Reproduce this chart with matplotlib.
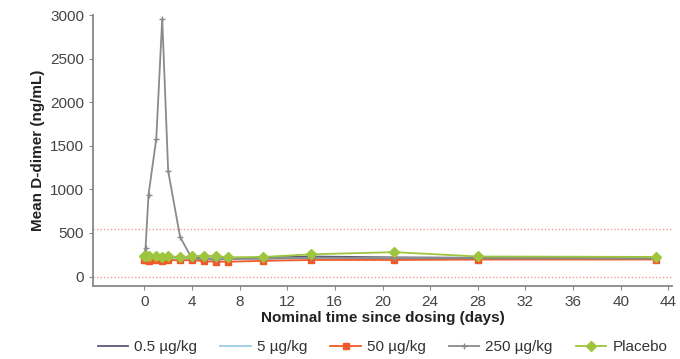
import numpy as np
import matplotlib.pyplot as plt

plt.rcParams['font.family'] = ['Liberation Sans', 'DejaVu Sans']

# nominal sampling days
days = [0, 0.1, 0.35, 1, 1.5, 2, 3, 4, 5, 6, 7, 10, 14, 21, 28, 43]
days_250 = [0, 0.1, 0.35, 1, 1.5, 2, 3, 4, 5, 6, 7, 10, 14, 21, 28, 43]

dose_05 = [215, 225, 220, 215, 210, 215, 210, 215, 210, 205, 210, 215, 230, 220, 215, 210]
dose_5 = [200, 205, 210, 205, 200, 200, 205, 200, 200, 195, 200, 205, 215, 210, 205, 205]
dose_50 = [185, 190, 175, 185, 180, 190, 185, 190, 175, 170, 170, 180, 190, 190, 195, 195]
dose_250 = [240, 325, 940, 1580, 2960, 1210, 455, 205, 200, 195, 200, 205, 215, 210, 210, 205]
placebo = [230, 235, 240, 230, 225, 230, 225, 230, 240, 235, 220, 225, 255, 280, 230, 225]

labels = ['0.5 µg/kg', '5 µg/kg', '50 µg/kg', '250 µg/kg', 'Placebo']
colors = ['#5b5b78', '#9ccbe3', '#f05a28', '#8a8a8a', '#9dc53e']


def main():
    fig = plt.figure(figsize=(6.8, 3.59), dpi=100)
    ax = fig.add_axes([0.137, 0.203, 0.851, 0.755])

    # reference lines
    ax.axhline(540, color='#f29a9a', ls=(0, (1, 1.5)), lw=1)
    ax.axhline(0, color='#f29a9a', ls=(0, (1, 1.5)), lw=1)

    ax.plot(days, dose_05, color=colors[0], lw=1.3, label=labels[0])
    ax.plot(days, dose_5, color=colors[1], lw=1.3, label=labels[1])
    ax.plot(days, dose_50, color=colors[2], lw=1.3, marker='s', ms=4,
            label=labels[2])
    ax.plot(days_250, dose_250, color=colors[3], lw=1.3, marker='+', ms=5,
            label=labels[3])
    ax.plot(days, placebo, color=colors[4], lw=1.3, marker='D', ms=5,
            label=labels[4])

    ax.set_xlim(-4.3, 44.3)
    ax.set_ylim(-110, 3000)
    ax.set_xticks(np.arange(0, 45, 4))
    ax.set_yticks(np.arange(0, 3001, 500))

    for s in ['top', 'right']:
        ax.spines[s].set_visible(False)
    for s in ['left', 'bottom']:
        ax.spines[s].set_color('#888888')
        ax.spines[s].set_linewidth(1.3)
    ax.tick_params(colors='#888888', labelcolor='#444444', labelsize=11,
                   length=3)

    ax.set_ylabel('Mean D-dimer (ng/mL)', fontsize=11, fontweight='bold',
                  color='#222222')
    ax.set_xlabel('Nominal time since dosing (days)', fontsize=11,
                  fontweight='bold', color='#222222', labelpad=1)

    ax.legend(loc='center', bbox_to_anchor=(0.5, -0.225), ncol=5,
              frameon=False, fontsize=11, handlelength=2.0,
              columnspacing=1.5, handletextpad=0.4, labelcolor='#333333')

    fig.savefig('out.png', dpi=100)


if __name__ == "__main__":
    main()
